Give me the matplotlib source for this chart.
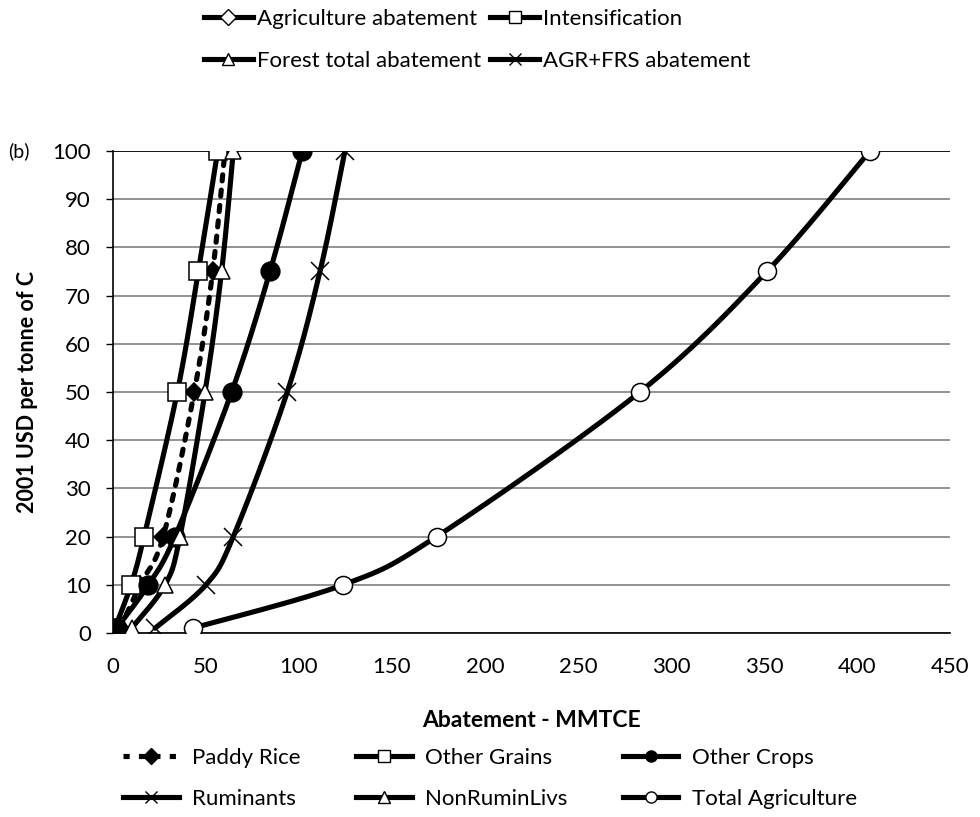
import numpy as np
import matplotlib.pyplot as plt
from matplotlib.lines import Line2D

plt.rcParams['font.family'] = ['Lato', 'DejaVu Sans']

# carbon price levels (y) and abatement for each sector (x)
prices = [1, 10, 20, 50, 75, 100]
paddy_rice = [3.8, 14.5, 27.0, 43.7, 53.6, 60.2]
other_grains = [1.0, 9.7, 16.7, 34.6, 45.9, 56.3]
other_crops = [2.0, 19.0, 33.3, 63.8, 84.4, 101.8]
ruminants = [22.6, 50.0, 64.7, 93.7, 111.3, 124.7]
non_rumin = [10.0, 28.0, 36.0, 49.5, 58.4, 64.7]
total_agr = [42.8, 123.8, 174.0, 283.3, 351.6, 407.0]

xticks = [0, 50, 100, 150, 200, 250, 300, 350, 400, 450]
yticks = [0, 10, 20, 30, 40, 50, 60, 70, 80, 90, 100]

fig = plt.figure(figsize=(9.8, 8.17), dpi=100)
ax = fig.add_axes([0.1153, 0.2252, 0.854, 0.59])
ax.set_xlim(0, 450)
ax.set_ylim(0, 100)

# pixel scale of the axes, so the smoothing behaves like Excel's
sx = 837 / 450
sy = 482 / 100


def smooth(xs, ys, n=30):
    # Excel-like smoothed line (cardinal bezier, tension 1/6)
    P = np.column_stack([np.array(xs) * sx, np.array(ys) * sy])
    P = np.vstack([P[0], P, P[-1]])
    out = []
    t = np.linspace(0, 1, n)[:, None]
    for i in range(1, len(P) - 2):
        p0, p1, p2, p3 = P[i - 1], P[i], P[i + 1], P[i + 2]
        c1 = p1 + (p2 - p0) / 6
        c2 = p2 - (p3 - p1) / 6
        seg = (1 - t) ** 3 * p1 + 3 * (1 - t) ** 2 * t * c1 \
            + 3 * (1 - t) * t ** 2 * c2 + t ** 3 * p2
        out.append(seg)
    out = np.vstack(out)
    return out[:, 0] / sx, out[:, 1] / sy


series = [
    ("Paddy Rice", paddy_rice, dict(ls=(0, (1.2, 1.8)), marker='D', mfc='black', ms=9)),
    ("Other Grains", other_grains, dict(ls='-', marker='s', mfc='white', ms=13)),
    ("Other Crops", other_crops, dict(ls='-', marker='o', mfc='black', ms=13.5)),
    ("Ruminants", ruminants, dict(ls='-', marker='x', mfc='none', ms=13)),
    ("NonRuminLivs", non_rumin, dict(ls='-', marker='^', mfc='white', ms=12)),
    ("Total Agriculture", total_agr, dict(ls='-', marker='o', mfc='white', ms=13)),
]

for name, xs, st in series:
    cx, cy = smooth(xs, prices)
    ax.plot(cx, cy, color='black', lw=3.7, ls=st['ls'], zorder=3,
            solid_capstyle='round', dash_capstyle='round')
    ax.plot(xs, prices, ls='none', marker=st['marker'], mfc=st['mfc'], mec='black',
            ms=st['ms'], mew=1.1, zorder=4)

ax.set_xticks(xticks)
ax.set_yticks(yticks)
ax.tick_params(axis='x', length=0, labelsize=16, pad=17)
ax.tick_params(axis='y', length=5, width=1, direction='out', labelsize=16, pad=11)
ax.grid(axis='y', color='#808080', lw=1.2)
ax.set_axisbelow(True)
for s in ['top', 'right']:
    ax.spines[s].set_visible(False)
ax.spines['left'].set_linewidth(1.2)
ax.spines['bottom'].set_linewidth(1.2)
ax.axhline(100, color='black', lw=1.2, zorder=1)

ax.set_xlabel('Abatement - MMTCE', fontsize=16.5, fontweight='bold', labelpad=24)
ax.set_ylabel('2001 USD per tonne of C', fontsize=15.5, fontweight='bold', labelpad=10)
fig.text(0.008, 0.815, '(b)', fontsize=14, va='center')

# bottom legend
h_bottom = []
for name, xs, st in series:
    h_bottom.append(Line2D([], [], color='black', lw=3.7, ls=st['ls'], marker=st['marker'],
                           mfc=st['mfc'], mec='black', ms=8, mew=1, label=name,
                           dash_capstyle='butt'))
order = [0, 3, 1, 4, 2, 5]
fig.legend([h_bottom[i] for i in order], [series[i][0] for i in order],
           loc='center', bbox_to_anchor=(0.5, 0.047), ncol=3, frameon=False,
           fontsize=16, handlelength=2.5, columnspacing=2.5, labelspacing=0.95,
           handletextpad=0.6)

# top legend (series of the other panel)
top_names = ["Agriculture abatement", "Forest total abatement", "Intensification", "AGR+FRS abatement"]
top_markers = ['D', '^', 's', 'x']
h_top = [Line2D([], [], color='black', lw=3.7, marker=m, mfc='white', mec='black',
                ms=8, mew=1) for m in top_markers]
fig.legend(h_top, top_names, loc='center', bbox_to_anchor=(0.487, 0.951),
           ncol=2, frameon=False, fontsize=16, handlelength=2.2, columnspacing=0.4,
           labelspacing=1.0, handletextpad=0.2)

fig.savefig('out.png', dpi=100)
